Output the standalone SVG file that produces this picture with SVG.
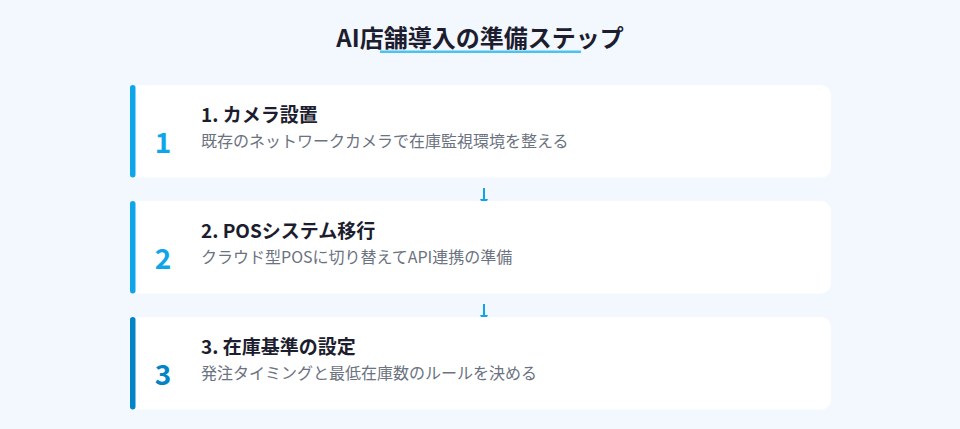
<svg xmlns="http://www.w3.org/2000/svg" width="960" height="429" viewBox="0 0 960 429">
<defs>
<style>
text{font-family:"Noto Sans CJK JP","Noto Sans",sans-serif;}
.title{font-size:24px;font-weight:700;fill:#1c1d2e;}
.card{fill:#ffffff;}
.bar1{fill:#0ea5e9;}
.bar3{fill:#0284c7;}
.num{font-size:28px;font-weight:700;text-anchor:middle;}
.n1{fill:#0ea5e9;}
.n3{fill:#0284c7;}
.st{font-size:19px;font-weight:700;fill:#1c1d2e;}
.desc{font-size:16px;fill:#6b7280;}
.conn{stroke:#0ea5e9;stroke-width:2;fill:none;}
</style>
<marker id="arr" markerWidth="8" markerHeight="8" refX="4" refY="4" orient="auto" markerUnits="userSpaceOnUse">
<path d="M0,0 L8,4 L0,8 Z" fill="#0ea5e9"/>
</marker>
</defs>
<rect width="960" height="429" fill="#f3f8fe"/>
<g id="title">
<text class="title" x="480" y="47" text-anchor="middle">AI店舗導入の準備ステップ</text>
<rect x="380" y="50.5" width="201" height="2.5" fill="#4cc3ef"/>
</g>
<g id="connectors">
<line class="conn" x1="484" y1="188" x2="484" y2="203" marker-end="url(#arr)"/>
<line class="conn" x1="484" y1="304" x2="484" y2="319" marker-end="url(#arr)"/>
</g>
<g id="step1">
<path class="card" d="M133,85 H821 A10,10 0 0 1 831,95 V167.5 A10,10 0 0 1 821,177.5 H133 Z"/>
<rect class="bar1" x="130" y="85" width="5.5" height="92.5" rx="2.75"/>
<text class="num n1" x="163" y="153">1</text>
<text class="st" x="201" y="121.5">1. カメラ設置</text>
<text class="desc" x="201" y="146.5">既存のネットワークカメラで在庫監視環境を整える</text>
</g>
<g id="step2">
<path class="card" d="M133,201 H821 A10,10 0 0 1 831,211 V283.5 A10,10 0 0 1 821,293.5 H133 Z"/>
<rect class="bar1" x="130" y="201" width="5.5" height="92.5" rx="2.75"/>
<text class="num n1" x="163" y="269">2</text>
<text class="st" x="201" y="237.5">2. POSシステム移行</text>
<text class="desc" x="201" y="262.5">クラウド型POSに切り替えてAPI連携の準備</text>
</g>
<g id="step3">
<path class="card" d="M133,317 H821 A10,10 0 0 1 831,327 V399.5 A10,10 0 0 1 821,409.5 H133 Z"/>
<rect class="bar3" x="130" y="317" width="5.5" height="92.5" rx="2.75"/>
<text class="num n3" x="163" y="385">3</text>
<text class="st" x="201" y="353.5">3. 在庫基準の設定</text>
<text class="desc" x="201" y="378.5">発注タイミングと最低在庫数のルールを決める</text>
</g>
</svg>
